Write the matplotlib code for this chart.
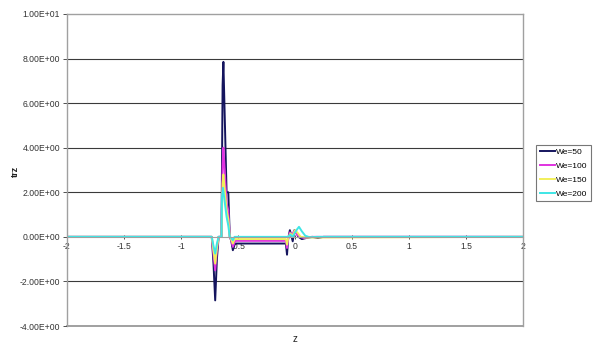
import matplotlib
matplotlib.use('Agg')
import matplotlib.pyplot as plt
from matplotlib.ticker import FuncFormatter

plt.rcParams['font.family'] = ['Liberation Sans', 'DejaVu Sans']

# series (z, trz)
z_we50 = [-2, -0.73, -0.715, -0.70, -0.685, -0.67, -0.645, -0.635, -0.628, -0.60,
          -0.585, -0.572, -0.56, -0.545, -0.53, -0.52, -0.08, -0.07, -0.06, -0.045,
          -0.032, -0.02, -0.005, 0.01, 0.03, 0.06, 0.10, 0.15, 0.20, 0.25, 2]
trz_we50 = [0, 0, -1.2, -2.85, -1.0, 0, 0, 6.8, 7.85, 2.0,
            2.0, 0.0, -0.15, -0.6, -0.35, -0.3, -0.3, -0.8, -0.1, 0.3,
            0.05, -0.2, 0.3, 0.2, 0.0, -0.1, -0.05, 0.0, -0.05, 0.0, 0]

z_we100 = [-2, -0.73, -0.715, -0.70, -0.685, -0.67, -0.645, -0.635, -0.628, -0.60,
           -0.585, -0.572, -0.56, -0.545, -0.53, -0.52, -0.08, -0.07, -0.06, -0.045,
           -0.03, -0.01, 0.01, 0.04, 0.08, 0.15, 2]
trz_we100 = [0, 0, -0.8, -1.5, -0.6, 0, 0, 3.2, 4.0, 1.5,
             1.2, 0.0, -0.15, -0.45, -0.25, -0.18, -0.18, -0.5, -0.1, 0.2,
             0.05, 0.25, 0.15, 0.0, -0.05, 0.0, 0]

z_we150 = [-2, -0.73, -0.715, -0.70, -0.685, -0.67, -0.645, -0.635, -0.628, -0.60,
           -0.585, -0.572, -0.56, -0.545, -0.53, -0.08, -0.07, -0.06, -0.04,
           -0.02, 0.0, 0.02, 0.05, 0.10, 2]
trz_we150 = [0, 0, -0.6, -1.2, -0.5, 0, 0, 2.4, 2.8, 1.2,
             0.8, 0.0, -0.1, -0.3, -0.1, -0.1, -0.35, -0.05, 0.15,
             0.05, 0.3, 0.2, 0.0, -0.03, 0]

z_we200 = [-2, -0.73, -0.715, -0.70, -0.685, -0.67, -0.645, -0.64, -0.632, -0.60,
           -0.585, -0.572, -0.56, -0.545, -0.53, -0.06, -0.04, -0.02, 0.0, 0.02,
           0.035, 0.06, 0.09, 0.13, 0.19, 2]
trz_we200 = [0, 0, -0.4, -0.75, -0.3, 0, 0, 1.8, 2.2, 0.9,
             0.5, 0.0, -0.05, -0.15, 0.0, 0.0, 0.1, 0.0, 0.2, 0.35,
             0.45, 0.25, 0.05, -0.02, 0.0, 0]

labels = ['We=50', 'We=100', 'We=150', 'We=200']
colors = ['#15155e', '#e033e0', '#f2ef5a', '#3ee6e6']
x_ticks = [-2, -1.5, -1, -0.5, 0, 0.5, 1, 1.5, 2]
y_ticks = [-4, -2, 0, 2, 4, 6, 8, 10]

fig = plt.figure(figsize=(5.98, 3.51), dpi=100)
ax = fig.add_axes([0.112, 0.0712, 0.7626, 0.889])

# horizontal grid lines
for yv in [-2, 2, 4, 6, 8]:
    ax.axhline(yv, color='#3a3a3a', lw=0.8, zorder=0)

series = [(z_we50, trz_we50), (z_we100, trz_we100), (z_we150, trz_we150), (z_we200, trz_we200)]
for (zs, ts), lab, col in zip(series, labels, colors):
    ax.plot(zs, ts, color=col, lw=1.4, label=lab)

ax.set_xlim(-2, 2)
ax.set_ylim(-4, 10)
ax.set_xticks(x_ticks)
ax.set_yticks(y_ticks)
ax.set_xticklabels(['-2', '-1.5', '-1', '-0.5', '0', '0.5', '1', '1.5', '2'])
ax.yaxis.set_major_formatter(FuncFormatter(lambda v, p: '%.2E' % v))

for s in ['top', 'right', 'left']:
    ax.spines[s].set_color('#a0a0a0')
    ax.spines[s].set_linewidth(1.0)
ax.spines['bottom'].set_position(('data', 0))
ax.spines['bottom'].set_color('#a0a0a0')
ax.axhline(-4, color='#a0a0a0', lw=1.4, clip_on=False, zorder=0)

ax.tick_params(axis='both', labelsize=6.2, colors='#333333', length=3, width=0.6)
ax.tick_params(axis='x', direction='inout', pad=2)
ax.tick_params(axis='y', direction='out', pad=2)

fig.text(15 / 598, 1 - 171 / 351, 'trz', rotation=90, ha='center', va='center',
         fontsize=6.5, fontweight='bold', color='#222222')
ax.text(0, -4.6, 'z', ha='center', va='center', fontsize=7, color='#222222')

leg = ax.legend(loc='center left', bbox_to_anchor=(1.02, 0.49), fontsize=6,
                handlelength=1.8, handletextpad=0.2, labelspacing=0.75,
                borderpad=0.4, fancybox=False, frameon=True)
leg.get_frame().set_edgecolor('#555555')
leg.get_frame().set_linewidth(0.8)

fig.savefig('out.png', dpi=100)
